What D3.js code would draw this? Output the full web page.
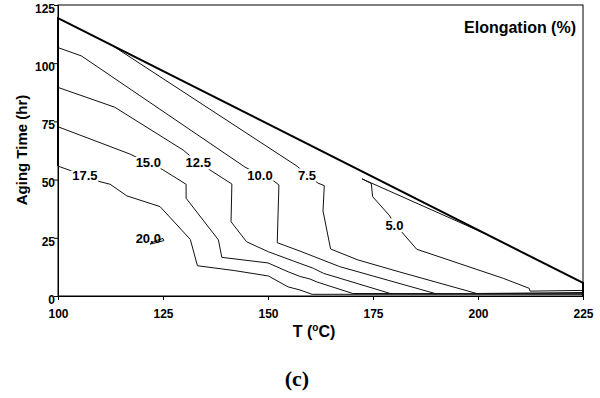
<!DOCTYPE html>
<html><head><meta charset="utf-8">
<script src="https://cdn.jsdelivr.net/npm/d3@7"></script>
<style>body{margin:0;background:#fff}svg{display:block}</style>
</head><body>
<svg id="c" width="600" height="398"></svg>
<script>
// ---- data (T in °C, aging time in hr) ----
const xTicks = [100, 125, 150, 175, 200, 225];
const yTicks = [0, 25, 50, 75, 100, 125];
const boundary = [[100,55.8],[100,119.4],[225,5.6],[225,0]];
const c175 = [[100,55.8],[103.1,53.8],[106.4,52.0],[110,49.1],[112.4,48.0],[116.4,43.0],[124.3,38.4],[131.5,24.3],[133.2,13.0],[142.1,10.9],[150.1,8.6],[154.8,3.9],[157.6,2.6],[160.5,0.73],[225,0.73]];
const c150 = [[100,72.7],[117.1,61.0],[121.5,57.2],[124.8,54.4],[130.5,48.0],[130.5,42.0],[138.2,24.1],[139.0,16.6],[150.0,14.2],[154.8,10.4],[157.6,8.4],[160.0,7.3],[161.7,6.0],[170.2,1.07],[225,1.0]];
const c125 = [[100,89.6],[113.5,81.1],[129.8,62.7],[133.4,57.2],[135.0,55.5],[141.4,48.1],[141.2,31.9],[144.9,23.3],[150.1,19.0],[157.6,14.0],[160.8,11.9],[163.2,9.75],[179.5,0.86]];
const c100 = [[100,106.7],[105.6,103.1],[144.5,55.4],[148.1,52.0],[151.3,49.5],[152.6,47.7],[152.2,22.9],[157.6,19.3],[167.1,12.6],[190.2,0.86]];
const c75 = [[113.1,107.4],[156.9,55.8],[159.3,52.0],[161.9,48.5],[163.4,47.4],[163.1,36.5],[164.9,20.2],[171.4,15.5],[181.4,10.3],[199.7,1.07],[225,1.5]];
const c50 = [[202.4,26.2],[172.4,50.3],[174.6,48.3],[174.9,42.7],[179.0,34.4],[180.1,30.5],[181.8,27.6],[185.4,20.1],[206.0,7.6],[212.2,3.3],[212.4,2.1],[225,2.4]];
const c200 = [[121.9,22.3],[123.3,23.8],[125.0,24.7],[125.2,23.8],[123.6,23.0],[121.9,22.3]];
const contours = [c175, c150, c125, c100, c75, c50, c200];
const labelText = ["17.5","15.0","12.5","10.0","7.5","5.0","20.0"];
const labelT    = [106.4, 121.5, 133.4, 148.1, 159.3, 180.1, 121.5];
const labelHr   = [52.0, 57.2, 57.2, 52.0, 52.0, 30.5, 24.8];

// ---- drawing ----
const svg = d3.select("#c");
const x = d3.scaleLinear().domain([100,225]).range([58,583]);
const y = d3.scaleLinear().domain([0,125]).range([296,5]);
const line = d3.line().x(d=>x(d[0])).y(d=>y(d[1]));
const F = "Liberation Sans, Arial, sans-serif";

// frame
svg.append("rect").attr("x",x(100)).attr("y",y(125)).attr("width",x(225)-x(100)).attr("height",y(0)-y(125))
  .attr("fill","none").attr("stroke","#000").attr("stroke-width",1);

// contours
svg.append("g").selectAll("path").data(contours).join("path")
  .attr("d",line).attr("fill","none").attr("stroke","#111").attr("stroke-width",1);
svg.append("path").attr("d",line(boundary)).attr("fill","none").attr("stroke","#000").attr("stroke-width",2);

// contour labels
svg.append("g").selectAll("text").data(labelText).join("text")
  .attr("x",(d,i)=>x(labelT[i])).attr("y",(d,i)=>y(labelHr[i])+4.6)
  .attr("text-anchor","middle").attr("font-family",F).attr("font-weight","bold").attr("font-size",13)
  .attr("stroke",(d,i)=>i===6?"none":"#fff").attr("stroke-width",5).attr("paint-order","stroke")
  .attr("fill","#000").text(d=>d);

// x axis
const gx = svg.append("g").attr("transform",`translate(0,${y(0)})`)
  .call(d3.axisBottom(x).tickValues(xTicks).tickSize(4).tickFormat(d3.format("d")));
gx.select(".domain").attr("stroke","#000");
gx.selectAll("line").attr("stroke","#000");
gx.selectAll("text").attr("y",13).attr("dy","0.71em").attr("font-family",F).attr("font-weight","bold").attr("font-size",12).attr("fill","#000");

// y axis
const gy = svg.append("g").attr("transform",`translate(${x(100)},0)`)
  .call(d3.axisLeft(y).tickValues(yTicks).tickSize(4).tickFormat(d3.format("d")));
gy.select(".domain").attr("stroke","#000");
gy.selectAll("line").attr("stroke","#000");
gy.selectAll("text").attr("x",-3).attr("dy","0.6em").attr("font-family",F).attr("font-weight","bold").attr("font-size",12).attr("fill","#000");

// titles
const xt = svg.append("text").attr("x",314).attr("y",337).attr("text-anchor","middle")
  .attr("font-family",F).attr("font-weight","bold").attr("font-size",16);
xt.append("tspan").text("T (");
xt.append("tspan").attr("font-size",10).attr("dy",-6).text("o");
xt.append("tspan").attr("dy",6).text("C)");

svg.append("text").attr("transform","translate(27,150) rotate(-90)").attr("text-anchor","middle")
  .attr("font-family",F).attr("font-weight","bold").attr("font-size",15).text("Aging Time (hr)");

svg.append("text").attr("x",576).attr("y",33).attr("text-anchor","end")
  .attr("font-family",F).attr("font-weight","bold").attr("font-size",16).text("Elongation (%)");

svg.append("text").attr("x",297).attr("y",386).attr("text-anchor","middle")
  .attr("font-family","Liberation Serif, Times New Roman, serif").attr("font-weight","bold").attr("font-size",22).text("(c)");
</script>
</body></html>
